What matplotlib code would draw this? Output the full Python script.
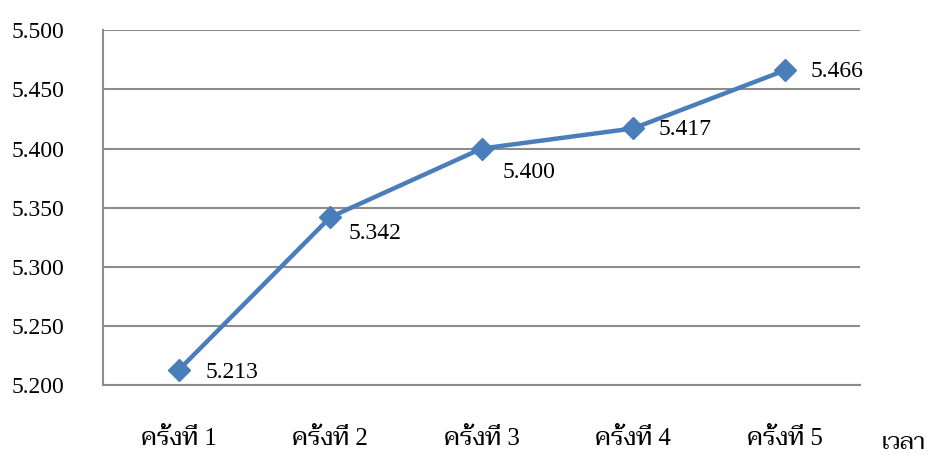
import matplotlib
matplotlib.use('Agg')
import matplotlib.pyplot as plt

# ค่าเฉลี่ยในแต่ละครั้ง
rounds = ['ครั้งที่ 1', 'ครั้งที่ 2', 'ครั้งที่ 3', 'ครั้งที่ 4', 'ครั้งที่ 5']
scores = [5.213, 5.342, 5.400, 5.417, 5.466]
yticks = [5.200, 5.250, 5.300, 5.350, 5.400, 5.450, 5.500]

# ระยะเลื่อนป้ายตัวเลข (จุด)
label_offsets = [(19, -2), (13, -12), (15, -17), (18, -1), (19, -1)]

thai_font = ['Liberation Serif', 'Taviraj', 'Noto Serif Thai', 'DejaVu Sans']
plt.rcParams['font.family'] = thai_font

fig = plt.figure(figsize=(9.3, 4.58), dpi=100)
ax = fig.add_axes([0.111, 0.159, 0.814, 0.775])

x = list(range(len(rounds)))
ax.plot(x, scores, color='#4A7EBB', linewidth=3.2, marker='D', markersize=11,
        markerfacecolor='#4A7EBB', markeredgecolor='#4A7EBB', zorder=3)

for xi, v, off in zip(x, scores, label_offsets):
    ax.annotate('%.3f' % v, (xi, v), xytext=off, textcoords='offset points',
                ha='left', va='center', fontsize=17, family='Liberation Serif')

ax.set_xlim(-0.5, len(rounds) - 0.5)
ax.set_ylim(yticks[0], yticks[-1])
ax.set_yticks(yticks)
ax.set_yticklabels(['%.3f' % t for t in yticks], fontsize=17, family='Liberation Serif')
ax.set_xticks(x)
ax.set_xticklabels(rounds, fontsize=18)
ax.tick_params(axis='both', length=0)
ax.tick_params(axis='y', pad=28)
ax.tick_params(axis='x', pad=31)

ax.grid(axis='y', color='#8C8C8C', linewidth=1.5)
ax.set_axisbelow(True)
for s in ['top', 'right']:
    ax.spines[s].set_visible(False)
for s in ['left', 'bottom']:
    ax.spines[s].set_color('#8C8C8C')
    ax.spines[s].set_linewidth(1.5)

fig.text(0.948, 0.02, 'เวลา', fontsize=17, ha='left', va='baseline')

fig.savefig('out.png')
